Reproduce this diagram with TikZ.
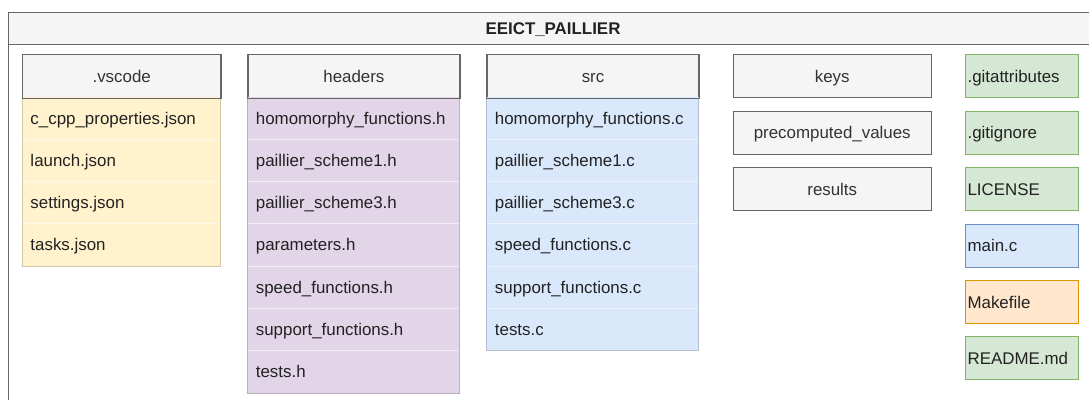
\documentclass[tikz,border=0pt]{standalone}
\usepackage{fontspec}
\setmainfont{Liberation Sans}

% draw.io palette
\definecolor{grayfill}{HTML}{F5F5F5}
\definecolor{graystroke}{HTML}{666666}
\definecolor{yfill}{HTML}{FFF2CC}
\definecolor{pfill}{HTML}{E1D5E7}
\definecolor{bfill}{HTML}{DAE8FC}
\definecolor{bstroke}{HTML}{6C8EBF}
\definecolor{gfill}{HTML}{D5E8D4}
\definecolor{gstroke}{HTML}{82B366}
\definecolor{ofill}{HTML}{FFE6CC}
\definecolor{ostroke}{HTML}{D79B00}
\definecolor{hdrtxt}{HTML}{333333}
\definecolor{bodytxt}{HTML}{222222}

\tikzset{
  base/.style={inner sep=0pt, font=\fontsize{16.9}{20}\selectfont,
    text height=14pt, text depth=2pt},
  hdrbox/.style={base, draw=graystroke, fill=grayfill, line width=1.1pt,
    minimum height=43, text=hdrtxt, anchor=north west},
  rowbox/.style={base, minimum height=42.3, anchor=north west, align=left,
    inner xsep=8pt, text=bodytxt},
  filebox/.style={base, draw=#1, line width=1.1pt, minimum width=113.3,
    minimum height=43, anchor=north west, align=left, text width=109.3,
    inner xsep=2pt, text=bodytxt},
  sepline/.style={white, opacity=0.6, line width=0.8pt},
}

% one folder drawn as a list: header plus one row per file
% #1 name, #2 left x, #3 width, #4 fill colour, #5 header text, #6 files
\newcommand\folderlist[6]{%
  \node[hdrbox, minimum width=#3] (#1) at (#2,54.3) {#5};
  \pgfmathsetmacro\rowtw{#3-16}
  \foreach \t [count=\i] in {#6} {
    \node[rowbox, fill=#4, minimum width=#3, text width=\rowtw pt]
      (#1-\i) at (#2,96.7+42.3*\i-42.3) {\t};
    \xdef\lastrow{\i}
  }
  \foreach \i in {2,...,\lastrow} {
    \draw[sepline] (#1-\i.north west) -- (#1-\i.north east);
  }
  \draw[#4!82!black, line width=1.1pt] (#1.south west) rectangle (#1-\lastrow.south east);
  \draw[graystroke, line width=1.1pt] (#1.north west) rectangle (#1.south east);
}

\begin{document}
\begin{tikzpicture}[x=1pt,y=-1pt]
  \useasboundingbox (0,0) rectangle (1089,399);
  \clip (0,0) rectangle (1089,399);
  \fill[white] (0,0) rectangle (1089,399);

  % repository container
  \fill[grayfill] (8.5,12.5) rectangle (1100,44.5);
  \draw[graystroke, line width=1.1pt] (8.5,12.5) rectangle (1100,420);
  \draw[graystroke, line width=1.1pt] (8.5,44.5) -- (1100,44.5);
  \node[base, font=\fontsize{16.9}{20}\selectfont\bfseries, text=bodytxt] (title) at (553,28.5) {EEICT\_PAILLIER};

  \folderlist{vscode}{22.3}{197.7}{yfill}{.vscode}
    {c\_cpp\_properties.json, launch.json, settings.json, tasks.json}
  \folderlist{headers}{247.7}{211.3}{pfill}{headers}
    {homomorphy\_functions.h, paillier\_scheme1.h, paillier\_scheme3.h,
     parameters.h, speed\_functions.h, support\_functions.h, tests.h}
  \folderlist{src}{486.7}{211.6}{bfill}{src}
    {homomorphy\_functions.c, paillier\_scheme1.c, paillier\_scheme3.c,
     speed\_functions.c, support\_functions.c, tests.c}

  % empty folders
  \node[hdrbox, minimum width=198] (keys) at (732.7,54.3) {keys};
  \node[hdrbox, minimum width=198] (precomp) at (732.7,110.7) {precomputed\_values};
  \node[hdrbox, minimum width=198] (results) at (732.7,167) {results};

  % top-level files
  \node[filebox=gstroke, fill=gfill] (gitattr) at (965,54.3) {.gitattributes};
  \node[filebox=gstroke, fill=gfill] (gitignore) at (965,110.7) {.gitignore};
  \node[filebox=gstroke, fill=gfill] (license) at (965,167) {LICENSE};
  \node[filebox=bstroke, fill=bfill] (mainc) at (965,223.7) {main.c};
  \node[filebox=ostroke, fill=ofill] (makefile) at (965,280) {Makefile};
  \node[filebox=gstroke, fill=gfill] (readme) at (965,336.3) {README.md};
\end{tikzpicture}
\end{document}
